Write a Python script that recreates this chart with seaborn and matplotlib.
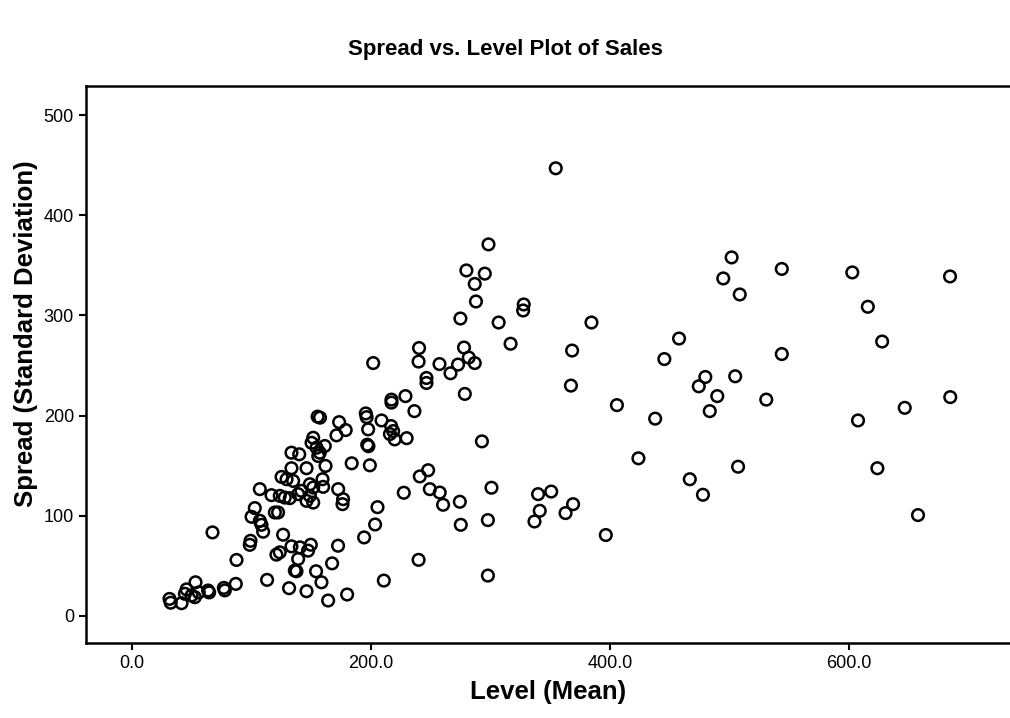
import seaborn as sns
sns.set_style('ticks')
import matplotlib.pyplot as plt

plt.rcParams['font.family'] = ['Liberation Sans', 'DejaVu Sans']
plt.rcParams['text.color'] = 'black'
plt.rcParams['axes.labelcolor'] = 'black'

# level (mean) and spread (standard deviation) per group
level = [
    354.8, 298.5, 280.0, 295.4, 287.0, 288.0, 275.0, 307.0, 317.0, 328.0,
    327.5, 384.7, 368.5, 367.5, 458.0, 445.7, 502.0, 495.0, 508.8, 544.0,
    603.0, 684.8, 616.0, 628.0, 544.0, 480.0, 505.0, 490.0, 531.0, 685.0,
    483.7, 607.8, 646.9, 507.4, 624.0, 658.0, 478.0, 467.0, 474.5, 406.0,
    438.0, 424.0, 240.4, 240.0, 257.5, 266.7, 273.0, 278.0, 282.0, 287.0,
    246.6, 246.6, 229.0, 278.7, 236.5, 230.0, 293.0, 248.0, 241.0, 249.4,
    257.7, 260.5, 274.5, 275.3, 298.0, 301.0, 340.0, 351.0, 341.4, 337.0,
    363.0, 369.3, 396.7, 240.0, 298.0, 227.6, 202.0,
    155.5, 157.5, 173.5, 179.0, 171.3, 195.8, 196.5, 209.0, 217.3, 217.3,
    197.8, 217.0, 218.7, 216.0, 220.0, 197.0, 198.0, 199.2, 184.0, 205.6,
    203.6, 194.4, 210.9, 172.6, 167.6, 180.2, 164.3, 146.2, 131.6, 113.2,
    154.2, 158.7, 137.8, 149.8, 147.5, 140.6, 133.6, 139.2, 136.4, 126.6,
    123.8, 121.0, 99.3, 98.7, 87.6, 87.0, 77.0, 77.8, 67.5, 63.8,
    64.7, 53.3, 45.8, 44.4, 50.0, 52.7, 56.0, 31.5, 32.5, 41.6,
    107.1, 116.9, 119.7, 122.4, 102.9, 100.2, 107.1, 108.5, 109.9, 133.6,
    140.1, 133.6, 146.2, 125.3, 129.5, 135.0, 123.8, 128.0, 132.2, 139.2,
    142.0, 149.0, 151.8, 146.2, 149.0, 151.8, 160.1, 159.6, 162.1, 151.8,
    150.4, 154.6, 157.3, 161.5, 156.0, 172.7, 176.8, 176.3,
]
spread = [
    447.0, 371.0, 345.0, 341.8, 331.5, 314.0, 297.0, 293.0, 271.8, 311.0,
    305.0, 293.0, 265.0, 230.0, 277.0, 256.5, 358.0, 337.0, 321.0, 346.5,
    343.0, 339.0, 308.7, 274.0, 261.5, 238.6, 239.3, 219.5, 216.0, 218.5,
    204.5, 195.2, 207.8, 149.0, 147.5, 100.7, 121.0, 136.5, 229.3, 210.5,
    197.0, 157.4, 267.5, 254.0, 251.5, 242.3, 251.0, 268.0, 258.0, 252.5,
    237.6, 232.6, 219.5, 221.7, 204.5, 177.5, 174.3, 145.5, 139.3, 126.6,
    123.2, 111.0, 114.0, 91.0, 95.7, 128.0, 121.6, 124.2, 105.0, 94.3,
    102.7, 111.6, 80.8, 56.0, 40.3, 123.0, 252.5,
    199.0, 198.0, 193.5, 185.6, 180.3, 202.2, 198.5, 195.2, 216.0, 213.0,
    186.3, 189.6, 184.6, 181.6, 176.3, 171.0, 169.5, 150.4, 152.4, 108.6,
    91.3, 78.4, 35.3, 70.1, 52.5, 21.4, 15.4, 24.7, 27.7, 36.0,
    44.6, 33.6, 44.6, 71.1, 65.2, 68.5, 69.5, 56.9, 45.3, 81.1,
    63.5, 61.2, 75.0, 71.0, 55.9, 32.0, 28.0, 25.5, 83.4, 25.4,
    23.5, 33.6, 26.5, 22.1, 20.4, 18.7, 23.5, 17.0, 13.2, 12.7,
    126.6, 120.6, 103.3, 103.3, 107.7, 99.0, 95.0, 91.0, 84.1, 163.0,
    161.4, 147.5, 147.5, 138.8, 136.5, 134.8, 119.9, 118.2, 117.6, 121.6,
    124.9, 119.9, 113.2, 114.9, 131.5, 128.2, 128.9, 136.5, 149.8, 177.9,
    172.9, 168.0, 163.0, 169.7, 159.7, 126.6, 116.6, 111.6,
]

x_ticks = [0, 200, 400, 600]
x_tick_labels = ['0.0', '200.0', '400.0', '600.0']
y_ticks = [0, 100, 200, 300, 400, 500]
y_tick_labels = ['0', '100', '200', '300', '400', '500']

fig = plt.figure(figsize=(10.1, 7.18), dpi=100)
ax = fig.add_axes([0.085, 0.1045, 0.915, 0.7755])

sns.scatterplot(x=level, y=spread, ax=ax, marker='o', s=70,
                facecolor='none', edgecolor='black', linewidth=1.8)

ax.set_xlim(-38.5, 735)
ax.set_ylim(-27, 529)
ax.set_xticks(x_ticks)
ax.set_xticklabels(x_tick_labels)
ax.set_yticks(y_ticks)
ax.set_yticklabels(y_tick_labels)
ax.tick_params(axis='both', direction='out', length=5, width=1.5,
               labelsize=13, colors='black')

for side in ['left', 'top', 'bottom']:
    ax.spines[side].set_visible(True)
    ax.spines[side].set_linewidth(1.8)
    ax.spines[side].set_color('black')
ax.spines['right'].set_visible(False)

ax.set_xlabel('Level (Mean)', fontsize=18.5, fontweight='bold', labelpad=6)
ax.set_ylabel('Spread (Standard Deviation)', fontsize=18.5, fontweight='bold',
              labelpad=8)
ax.yaxis.set_label_coords(-0.052, 0.555)
fig.suptitle('Spread vs. Level Plot of Sales', fontsize=16,
             fontweight='bold', y=0.945)

fig.savefig('out.png', dpi=100)
